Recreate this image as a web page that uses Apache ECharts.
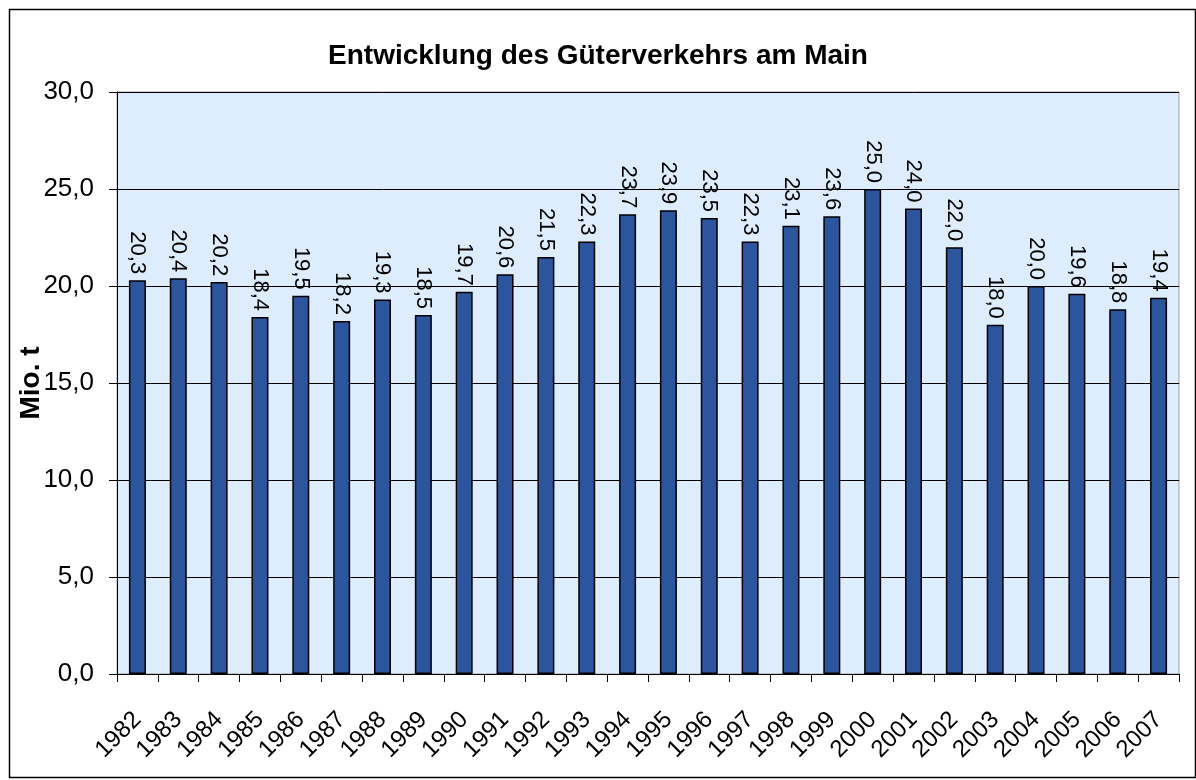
<!DOCTYPE html>
<html>
<head>
<meta charset="utf-8">
<script src="https://cdn.jsdelivr.net/npm/echarts@6/dist/echarts.min.js"></script>
<style>
html,body{margin:0;padding:0;background:#fff;}
#c{width:1196px;height:780px;}
</style>
</head>
<body>
<div id="c"></div>
<script>
const chartTitle = 'Entwicklung des Güterverkehrs am Main';
const yAxisName = 'Mio. t';
const years = ['1982','1983','1984','1985','1986','1987','1988','1989','1990','1991','1992','1993','1994','1995','1996','1997','1998','1999','2000','2001','2002','2003','2004','2005','2006','2007'];
const tonnage = [20.3,20.4,20.2,18.4,19.5,18.2,19.3,18.5,19.7,20.6,21.5,22.3,23.7,23.9,23.5,22.3,23.1,23.6,25.0,24.0,22.0,18.0,20.0,19.6,18.8,19.4];

const fmt = v => v.toFixed(1).replace('.', ',');
const font = '"Liberation Sans", Arial, sans-serif';

const chart = echarts.init(document.getElementById('c'), null, {renderer:'canvas'});
chart.setOption({
  backgroundColor: '#ffffff',
  animation: false,
  graphic: [{
    type: 'rect',
    left: 7, top: 7,
    shape: {width: 1186, height: 768},
    style: {fill: 'none', stroke: '#000', lineWidth: 1.5},
    silent: true
  }],
  title: {
    text: chartTitle,
    left: 'center',
    top: 37,
    textStyle: {fontFamily: font, fontWeight: 'bold', fontSize: 28, color: '#000'}
  },
  grid: {
    left: 117, right: 17, top: 92, bottom: 106,
    containLabel: false,
    outerBoundsMode: 'none',
    show: true,
    backgroundColor: '#DDEDFD',
    borderColor: '#A0A0A0',
    borderWidth: 1
  },
  xAxis: {
    type: 'category',
    data: years,
    boundaryGap: true,
    axisLine: {show: true, lineStyle: {color: '#000', width: 1}},
    axisTick: {show: true, alignWithLabel: false, length: 8, lineStyle: {color: '#000'}},
    axisLabel: {
      rotate: 45, interval: 0, fontFamily: font, fontSize: 24, color: '#000', margin: 42
    },
    splitLine: {show: false}
  },
  yAxis: {
    type: 'value',
    min: 0, max: 30, interval: 5,
    name: yAxisName,
    nameLocation: 'middle',
    nameGap: 72,
    nameMoveOverlap: false,
    nameTextStyle: {fontFamily: font, fontWeight: 'bold', fontSize: 28, color: '#000'},
    axisLine: {show: true, lineStyle: {color: '#000', width: 1}},
    axisTick: {show: true, length: 8, lineStyle: {color: '#000'}},
    axisLabel: {
      formatter: v => fmt(v), fontFamily: font, fontSize: 26, color: '#000', margin: 23
    },
    splitLine: {show: true, lineStyle: {color: '#000', width: 1}}
  },
  series: [{
    type: 'bar',
    data: tonnage,
    barWidth: 17,
    itemStyle: {color: '#2C559E', borderColor: '#000', borderWidth: 1.5},
    label: {
      show: true,
      position: 'top',
      rotate: -90,
      align: 'right',
      verticalAlign: 'middle',
      distance: 6,
      formatter: p => fmt(p.value),
      fontFamily: font, fontSize: 22, color: '#000'
    }
  }]
});
</script>
</body>
</html>
